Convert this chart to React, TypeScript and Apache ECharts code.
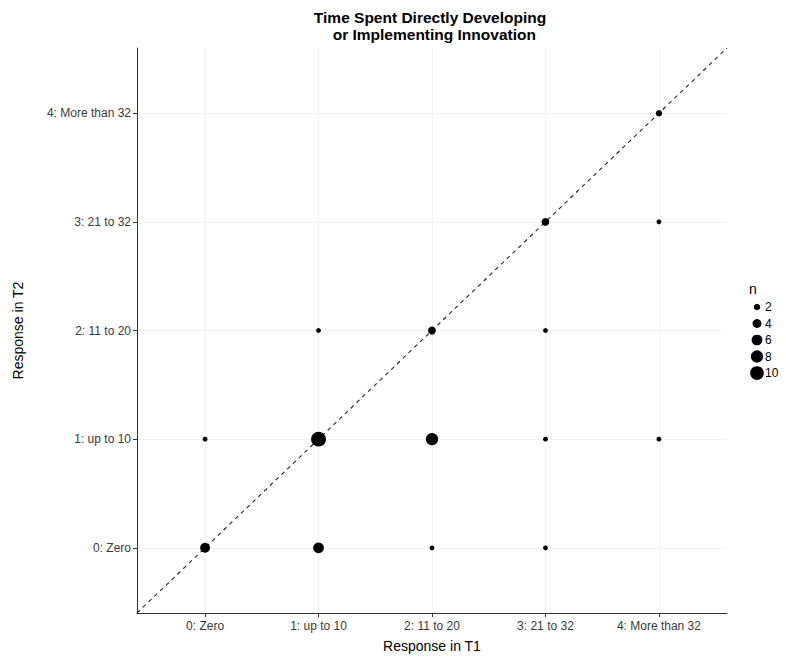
import React, { useEffect, useRef } from "react";
import * as echarts from "echarts";

const xLabels = ["0: Zero", "1: up to 10", "2: 11 to 20", "3: 21 to 32", "4: More than 32"];
const yLabels = ["0: Zero", "1: up to 10", "2: 11 to 20", "3: 21 to 32", "4: More than 32"];
const t1 = [0, 1, 2, 3, 0, 1, 2, 3, 4, 1, 2, 3, 3, 4, 4];
const t2 = [0, 0, 0, 0, 1, 1, 1, 1, 1, 2, 2, 2, 3, 3, 4];
const counts = [5, 6, 1, 1, 1, 12, 8, 1, 1, 1, 3, 1, 3, 1, 2];
const legendBreaks = [2, 4, 6, 8, 10];
const diagonal = [-0.6, 4.6];

const sizeOf = (n: number) => 4.8 + 4.1 * (Math.sqrt(n) - 1);
const FONT = "'Liberation Sans', Arial, sans-serif";

export default function App() {
  const ref = useRef<HTMLDivElement>(null);
  useEffect(() => {
    const chart = echarts.init(ref.current!, null, { renderer: "svg" });
    const ticks = [0, 1, 2, 3, 4];
    const points = t1.map((x, i) => [x, t2[i], counts[i]]);
    chart.setOption({
      animation: false,
      backgroundColor: "#fff",
      textStyle: { fontFamily: FONT },
      title: {
        text: "Time Spent Directly Developing\n  or Implementing Innovation",
        left: 425,
        top: 4,
        textAlign: "center",
        textStyle: { fontSize: 15.5, fontWeight: "bold", color: "#000", lineHeight: 17, fontFamily: FONT },
      },
      grid: [
        { left: 137, right: 59, top: 48, bottom: 43 },
        { left: 750, width: 14, top: 298.75, height: 82.5 },
      ],
      xAxis: [
        {
          type: "value",
          gridIndex: 0,
          min: -0.6,
          max: 4.6,
          name: "Response in T1",
          nameLocation: "middle",
          nameGap: 26,
          nameTextStyle: { fontSize: 14, color: "#000", fontFamily: FONT },
          axisLine: { show: true, onZero: false, lineStyle: { color: "#333", width: 1 } },
          axisTick: { show: true, customValues: ticks, length: 4, lineStyle: { color: "#333" } },
          axisLabel: {
            customValues: ticks,
            formatter: (v: number) => xLabels[Math.round(v)] ?? "",
            fontSize: 12,
            color: "#3a3a3a",
            margin: 7,
            fontFamily: FONT,
          },
          splitLine: { show: true, lineStyle: { color: "#f2f2f2", width: 1 } },
        },
        {
          type: "value",
          gridIndex: 1,
          min: 0,
          max: 1,
          show: false,
        },
      ],
      yAxis: [
        {
          type: "value",
          gridIndex: 0,
          min: -0.6,
          max: 4.6,
          name: "Response in T2",
          nameLocation: "middle",
          nameGap: 112,
          nameTextStyle: { fontSize: 14, color: "#000", fontFamily: FONT },
          axisLine: { show: true, onZero: false, lineStyle: { color: "#333", width: 1 } },
          axisTick: { show: true, customValues: ticks, length: 4, lineStyle: { color: "#333" } },
          axisLabel: {
            customValues: ticks,
            formatter: (v: number) => yLabels[Math.round(v)] ?? "",
            fontSize: 12,
            color: "#3a3a3a",
            margin: 6,
            fontFamily: FONT,
          },
          splitLine: { show: true, lineStyle: { color: "#f2f2f2", width: 1 } },
        },
        {
          type: "category",
          gridIndex: 1,
          position: "right",
          inverse: true,
          data: legendBreaks.map(String),
          axisLine: { show: false },
          axisTick: { show: false },
          splitLine: { show: false },
          axisLabel: { fontSize: 12, color: "#000", margin: 1, fontFamily: FONT },
        },
      ],
      graphic: [
        {
          type: "text",
          left: 749,
          top: 282,
          style: { text: "n", fontSize: 14, fill: "#000", fontFamily: FONT },
        },
      ],
      series: [
        {
          type: "line",
          xAxisIndex: 0,
          yAxisIndex: 0,
          data: [
            [diagonal[0], diagonal[0]],
            [diagonal[1], diagonal[1]],
          ],
          symbol: "none",
          lineStyle: { color: "#222", width: 1.1, type: [4, 4] },
          silent: true,
          z: 1,
        },
        {
          type: "scatter",
          xAxisIndex: 0,
          yAxisIndex: 0,
          data: points,
          symbolSize: (d: number[]) => sizeOf(d[2]),
          itemStyle: { color: "#000", opacity: 1 },
          z: 3,
        },
        {
          type: "scatter",
          xAxisIndex: 1,
          yAxisIndex: 1,
          data: legendBreaks.map((b, i) => [0.5, i, b]),
          symbolSize: (d: number[]) => sizeOf(d[2]),
          itemStyle: { color: "#000", opacity: 1 },
        },
      ],
    });
    return () => chart.dispose();
  }, []);
  return <div ref={ref} style={{ width: 786, height: 658, position: "absolute", left: 0, top: 0 }} />;
}
